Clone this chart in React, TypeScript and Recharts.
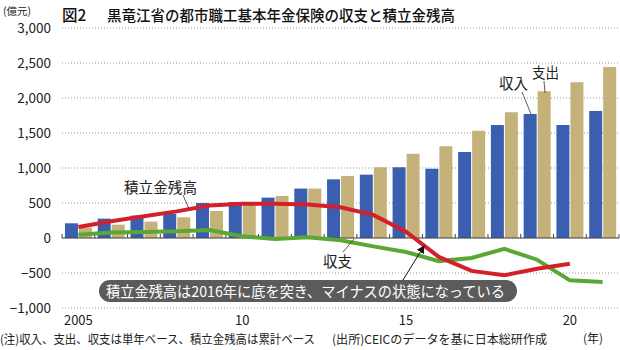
import React from 'react';
import { ComposedChart, Bar, Line, XAxis, YAxis, CartesianGrid, ReferenceLine } from 'recharts';

const years = ['2005','2006','2007','2008','2009','2010','2011','2012','2013','2014','2015','2016','2017','2018','2019','2020','2021'];
const income = [210, 277, 320, 345, 500, 514, 577, 706, 838, 905, 1010, 990, 1229, 1615, 1772, 1615, 1815];
const expense = [150, 191, 234, 296, 386, 490, 600, 706, 886, 1010, 1205, 1310, 1533, 1795, 2096, 2225, 2443];
const balance = [48, 80, 86, 95, 115, 24, -14, 10, -33, -120, -200, -330, -285, -155, -310, -605, -628];
const fund: (number | null)[] = [157, 239, 310, 380, 465, 490, 490, 480, 440, 330, 90, -270, -470, -533, -440, -367, null];
const yTicks = [-1000, -500, 0, 500, 1000, 1500, 2000, 2500, 3000];
const xLabels: Record<string, string> = { '2005': '2005', '2010': '10', '2015': '15', '2020': '20' };

const FONT = '"Noto Sans CJK JP", "Noto Sans", sans-serif';

const fmtY = (v: number) => {
  const s = Math.abs(v).toLocaleString('en-US');
  return v < 0 ? '−' + s : s;
};

const ZeroLine = (props: any) => {
  const { x1, y1, x2, y2 } = props;
  const n = years.length;
  const step = (x2 - x1) / n;
  const ticks = [];
  for (let k = 0; k <= n; k++) {
    const x = x1 + k * step;
    ticks.push(<line key={k} x1={x} x2={x} y1={y1} y2={y1 - 4} stroke="#444" strokeWidth={1} />);
  }
  return (
    <g>
      <line x1={x1} y1={y1} x2={x2} y2={y2} stroke="#444" strokeWidth={1.2} />
      {ticks}
    </g>
  );
};

export default function App() {
  const data = years.map((y, i) => ({
    year: y,
    income: income[i],
    expense: expense[i],
    balance: balance[i],
    fund: fund[i],
  }));
  return (
    <div style={{ position: 'absolute', left: 0, top: 0, width: 620, height: 350, background: '#fff', fontFamily: FONT }}>
      <ComposedChart
        width={620}
        height={350}
        data={data}
        margin={{ top: 28, right: 1, bottom: 12, left: 0 }}
        barCategoryGap="9%"
        barGap={1}
      >
        <CartesianGrid vertical={false} stroke="#999" strokeDasharray="1 2" />
        <XAxis
          dataKey="year"
          axisLine={false}
          tickLine={false}
          interval={0}
          height={30}
          tickFormatter={(v: string) => xLabels[v] ?? ''}
          tick={{ fontSize: 13, fill: '#222', fontFamily: FONT }}
        />
        <YAxis
          domain={[-1000, 3000]}
          ticks={yTicks}
          axisLine={false}
          tickLine={false}
          width={62}
          tickMargin={5}
          interval={0}
          tickFormatter={fmtY}
          tick={{ fontSize: 13.5, fill: '#222', fontFamily: FONT }}
        />
        <Bar dataKey="income" fill="#3a5fb0" isAnimationActive={false} />
        <Bar dataKey="expense" fill="#c5b27a" isAnimationActive={false} />
        <ReferenceLine y={0} stroke="#444" shape={ZeroLine} />
        <Line dataKey="balance" type="linear" stroke="#5aa833" strokeWidth={4} dot={false} activeDot={false} isAnimationActive={false} />
        <Line dataKey="fund" type="linear" stroke="#d4202a" strokeWidth={4} dot={false} activeDot={false} isAnimationActive={false} connectNulls={false} />
      </ComposedChart>
      <svg width={620} height={350} style={{ position: 'absolute', left: 0, top: 0, pointerEvents: 'none' }} fontFamily={FONT}>
        <defs>
          <marker id="ah" markerWidth="8" markerHeight="8" refX="7" refY="4" orient="auto" markerUnits="userSpaceOnUse">
            <path d="M0,0 L8,4 L0,8 Z" fill="#111" />
          </marker>
        </defs>
        <text x={3} y={15} fontSize={10.5} fill="#222">(億元)</text>
        <text x={62} y={21} fontSize={15.5} fontWeight={500} fill="#111">図2</text>
        <text x={107} y={21} fontSize={15} fontWeight={500} fill="#111" textLength={348} lengthAdjust="spacingAndGlyphs">黒竜江省の都市職工基本年金保険の収支と積立金残高</text>

        <text x={124} y={192.5} fontSize={14.5} fill="#222" textLength={73} lengthAdjust="spacingAndGlyphs">積立金残高</text>
        <line x1={183} y1={195} x2={189} y2={209} stroke="#333" strokeWidth={0.8} />

        <text x={499} y={89} fontSize={14.5} fill="#222" textLength={29} lengthAdjust="spacingAndGlyphs">収入</text>
        <line x1={522} y1={92} x2={531} y2={114} stroke="#333" strokeWidth={0.8} />
        <text x={532} y={78} fontSize={14.5} fill="#222" textLength={27} lengthAdjust="spacingAndGlyphs">支出</text>
        <line x1={544} y1={81} x2={545} y2={93} stroke="#333" strokeWidth={0.8} />

        <text x={323} y={267} fontSize={14.5} fill="#222" textLength={29} lengthAdjust="spacingAndGlyphs">収支</text>
        <line x1={343} y1={252} x2={354} y2={239} stroke="#333" strokeWidth={0.8} />

        <line x1={403} y1={280} x2={424} y2={246} stroke="#111" strokeWidth={1} markerEnd="url(#ah)" />
        <rect x={99} y={280} width={418} height={22} rx={11} ry={11} fill="#5b5b5b" />
        <text x={106} y={296.5} fontSize={15} fill="#fff" textLength={399} lengthAdjust="spacingAndGlyphs">積立金残高は2016年に底を突き、マイナスの状態になっている</text>

        <text x={0} y={344} fontSize={12} fill="#222" textLength={315} lengthAdjust="spacingAndGlyphs">(注)収入、支出、収支は単年ベース、積立金残高は累計ベース</text>
        <text x={332} y={344} fontSize={12} fill="#222" textLength={215} lengthAdjust="spacingAndGlyphs">(出所)CEICのデータを基に日本総研作成</text>
        <text x={583} y={343} fontSize={12} fill="#222">(年)</text>
      </svg>
    </div>
  );
}
